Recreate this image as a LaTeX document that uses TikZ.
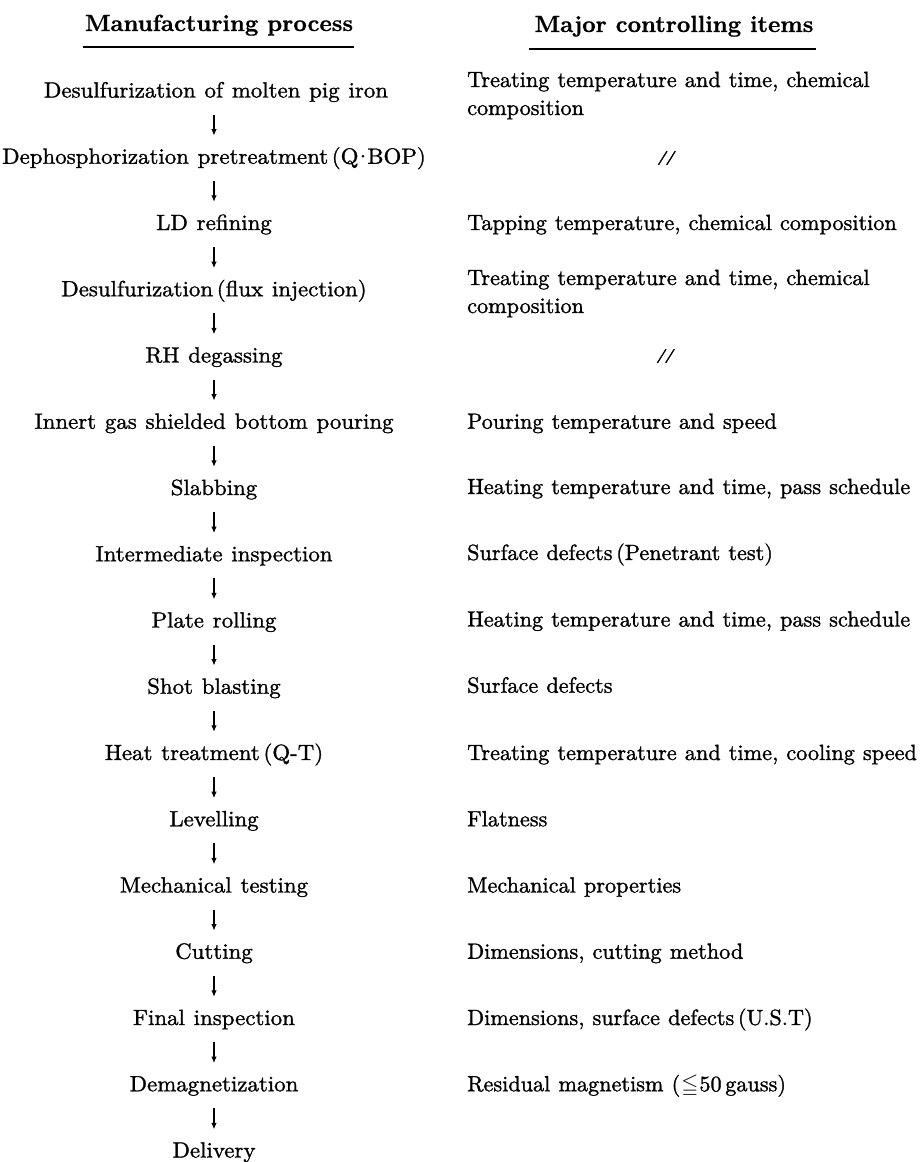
\documentclass[tikz,border=0pt]{standalone}
\usepackage{amssymb}
\usetikzlibrary{arrows.meta,calc}
\font\bodyfnt="[lmroman10-regular]:mapping=tex-text;embolden=1.3;extend=1.04" at 22pt
\font\itemfnt="[lmroman10-regular]:mapping=tex-text;embolden=1.3;extend=1.01" at 22pt
\font\headfnt="[lmroman10-bold]:mapping=tex-text;embolden=0.8" at 23.4pt
\font\dittofnt="[lmroman10-bolditalic]:mapping=tex-text;embolden=2.5" at 14pt
\newcommand\bodyfont{\fontsize{22}{28}\selectfont\bodyfnt\spaceskip 0.4em plus 0.1em\relax}
\newcommand\itemfont{\fontsize{22}{28}\selectfont\itemfnt\spaceskip 0.37em plus 0.1em\relax}
\newcommand\headfont{\fontsize{23.4}{28}\selectfont\headfnt}
\begin{document}
\begin{tikzpicture}[x=1pt,y=-1pt,
  proc/.style={inner sep=0pt,font=\bodyfont,anchor=base,text height=16pt,text depth=5pt},
  ctrl/.style={inner sep=0pt,font=\itemfont,anchor=base west,align=left},
  head/.style={inner sep=0pt,anchor=base,font=\headfont},
  ditto/.style={inner sep=0pt,font=\dittofnt},
  flow/.style={-{Latex[length=6.5pt,width=5.5pt]},line width=1.1pt,shorten <=12pt,shorten >=12pt},
  rule/.style={line width=1.3pt}]
\useasboundingbox (0,0) rectangle (920,1162);

% headers
\node[head] (hl) at (219,31) {Manufacturing process};
\node[head] (hr) at (674,32) {Major controlling items};
\draw[rule] ($(hl.base west)+(-2,16)$) -- ($(hl.base east)+(1,16)$);
\draw[rule] ($(hr.base west)+(-5,17)$) -- ($(hr.base east)+(2,17)$);

% manufacturing process
\node[proc] (p1)  at (216,97.5)   {Desulfurization of molten pig iron};
\node[proc] (p2)  at (214,163.75) {Dephosphorization pretreatment\,(Q\kern-4.5pt·\kern-4.5pt BOP)};
\node[proc] (p3)  at (214,230)    {LD refining};
\node[proc] (p4)  at (214,296.25) {Desulfurization\,(flux injection)};
\node[proc] (p5)  at (214,362.5)  {RH degassing};
\node[proc] (p6)  at (214,428.75) {Innert gas shielded bottom pouring};
\node[proc] (p7)  at (214,495)    {Slabbing};
\node[proc] (p8)  at (214,561.25) {Intermediate inspection};
\node[proc] (p9)  at (214,627.5)  {Plate rolling};
\node[proc] (p10) at (214,693.75) {Shot blasting};
\node[proc] (p11) at (214,760)    {Heat treatment\,(Q-T)};
\node[proc] (p12) at (214,826.25) {Levelling};
\node[proc] (p13) at (214,892.5)  {Mechanical testing};
\node[proc] (p14) at (214,958.75) {Cutting};
\node[proc] (p15) at (214,1025)   {Final inspection};
\node[proc] (p16) at (214,1091.25){Demagnetization};
\node[proc] (p17) at (214,1157.5) {Delivery};

\foreach \a/\b in {p1/p2,p2/p3,p3/p4,p4/p5,p5/p6,p6/p7,p7/p8,p8/p9,p9/p10,
                   p10/p11,p11/p12,p12/p13,p13/p14,p14/p15,p15/p16,p16/p17}
  \draw[flow] (\a.south -| p3) -- (\b.north -| p3);

% controlling items
\node[ctrl] (c1)  at (467,115)    {Treating temperature and time, chemical\\composition};
\node[ditto] (c2) at (666,158)    {//};
\node[ctrl] (c3)  at (467,230)    {Tapping temperature, chemical composition};
\node[ctrl] (c4)  at (467,313)    {Treating temperature and time, chemical\\composition};
\node[ditto] (c5) at (665,356)    {//};
\node[ctrl] (c6)  at (467,428.75) {Pouring temperature and speed};
\node[ctrl] (c7)  at (467,494)    {Heating temperature and time, pass schedule};
\node[ctrl] (c8)  at (467,560)    {Surface defects\,(Penetrant test)};
\node[ctrl] (c9)  at (467,626.5)  {Heating temperature and time, pass schedule};
\node[ctrl] (c10) at (467,692.75) {Surface defects};
\node[ctrl] (c11) at (467,760)    {Treating temperature and time, cooling speed};
\node[ctrl] (c12) at (467,826.25) {Flatness};
\node[ctrl] (c13) at (467,892.5)  {Mechanical properties};
\node[ctrl] (c14) at (467,958.75) {Dimensions, cutting method};
\node[ctrl] (c15) at (467,1025)   {Dimensions, surface defects\,(U.S.T)};
\node[ctrl] (c16) at (467,1091.25){Residual magnetism (\kern1pt$\leqq$\kern1pt50\,gauss)};
\end{tikzpicture}
\end{document}
